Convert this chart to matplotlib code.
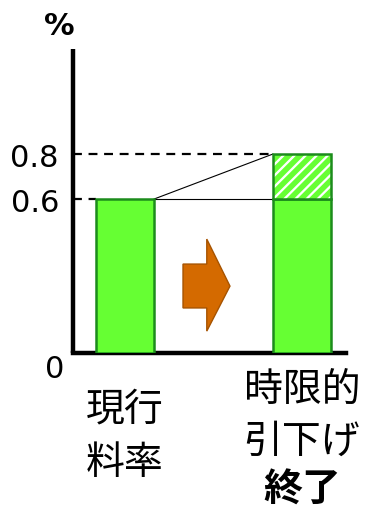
import matplotlib
matplotlib.use('Agg')
import matplotlib.pyplot as plt
from matplotlib.patches import Polygon

plt.rcParams['font.family'] = ['Noto Sans CJK JP', 'DejaVu Sans']

# ── データ ──
rate_now = 0.6        # 現行料率
rate_after = 0.8      # 時限的引下げ終了後
yticks = [0.6, 0.8]
ytick_labels = ['0.6', '0.8']
label_now = ['現行', '料率']
label_after = ['時限的', '引下げ']
label_after_bold = '終了'

FILL = '#66FF33'
EDGE = '#1C8C1C'
BASE = -0.084   # 見た目上の底 (0 ラベルは軸の角の下)
TOP = 1.267
X_NOW, X_AFT, W = 0.0, 3.05, 1.0

fig = plt.figure(figsize=(3.68, 5.10), dpi=100)
ax = fig.add_axes([0.198, 0.306, 0.742, 0.596])
ax.set_xlim(-0.9, 3.81)
ax.set_ylim(BASE, TOP)

for s in ['top', 'right']:
    ax.spines[s].set_visible(False)
ax.spines['left'].set_linewidth(3.2)
ax.spines['bottom'].set_linewidth(3.2)
ax.spines['left'].set_capstyle('butt')
ax.spines['bottom'].set_capstyle('projecting')

# 棒
ax.bar(X_NOW, rate_now - BASE, bottom=BASE, width=W, color=FILL,
       edgecolor=EDGE, linewidth=1.8, zorder=3)
ax.bar(X_AFT, rate_now - BASE, bottom=BASE, width=W, color=FILL,
       edgecolor=EDGE, linewidth=1.8, zorder=3)
# 引下げ分 (斜線)
plt.rcParams['hatch.linewidth'] = 4.0
ax.bar(X_AFT, rate_after - rate_now, bottom=rate_now, width=W, color='white',
       edgecolor=FILL, hatch='///', linewidth=0, zorder=3)
ax.bar(X_AFT, rate_after - rate_now, bottom=rate_now, width=W, color='none',
       edgecolor=EDGE, linewidth=1.8, zorder=4)

# 補助線
x_axis = -0.9
ax.plot([x_axis, X_AFT - W / 2], [rate_after, rate_after], ls=(0, (4, 3)),
        color='black', lw=1.6, zorder=2)
ax.plot([x_axis, X_NOW - W / 2], [rate_now, rate_now], ls=(0, (4, 3)),
        color='black', lw=1.6, zorder=2)
ax.plot([X_NOW + W / 2, X_AFT - W / 2], [rate_now, rate_after], color='black',
        lw=0.8, zorder=2)
ax.plot([X_NOW + W / 2, X_AFT - W / 2], [rate_now, rate_now], color='black',
        lw=0.8, zorder=2)

# 矢印
ax0, ax1, ax2 = 1.0, 1.41, 1.81
sy0, sy1 = 0.311, 0.116
hy0, hy1, tip = 0.422, 0.013, 0.213
arrow = Polygon([(ax0, sy1), (ax1, sy1), (ax1, hy1), (ax2, tip), (ax1, hy0),
                 (ax1, sy0), (ax0, sy0)], closed=True,
                facecolor='#D46A00', edgecolor='#A65300', lw=1.0, zorder=3)
ax.add_patch(arrow)

# 目盛
ax.set_xticks([])
ax.set_yticks(yticks)
ax.set_yticklabels(ytick_labels, fontsize=22, family=['DejaVu Sans'])
ax.tick_params(axis='y', length=0, pad=10)

ax.text(-0.066, -0.05, '0', transform=ax.transAxes, ha='center', va='center',
        fontsize=22, family=['DejaVu Sans'])
ax.text(-0.05, 1.076, '%', transform=ax.transAxes, ha='center', va='center',
        fontsize=22, fontweight='bold', family=['DejaVu Sans'])

# カテゴリラベル
tr = ax.get_xaxis_transform()
for txt, y in zip(label_now, [-0.184, -0.359]):
    ax.text(X_NOW, y, txt, transform=tr, ha='center', va='center', fontsize=28)
for txt, y in zip(label_after, [-0.118, -0.289]):
    ax.text(X_AFT, y, txt, transform=tr, ha='center', va='center', fontsize=28)
ax.text(X_AFT, -0.447, label_after_bold, transform=tr, ha='center', va='center',
        fontsize=28, fontweight='bold')

fig.savefig('out.png', dpi=100, facecolor='white')
